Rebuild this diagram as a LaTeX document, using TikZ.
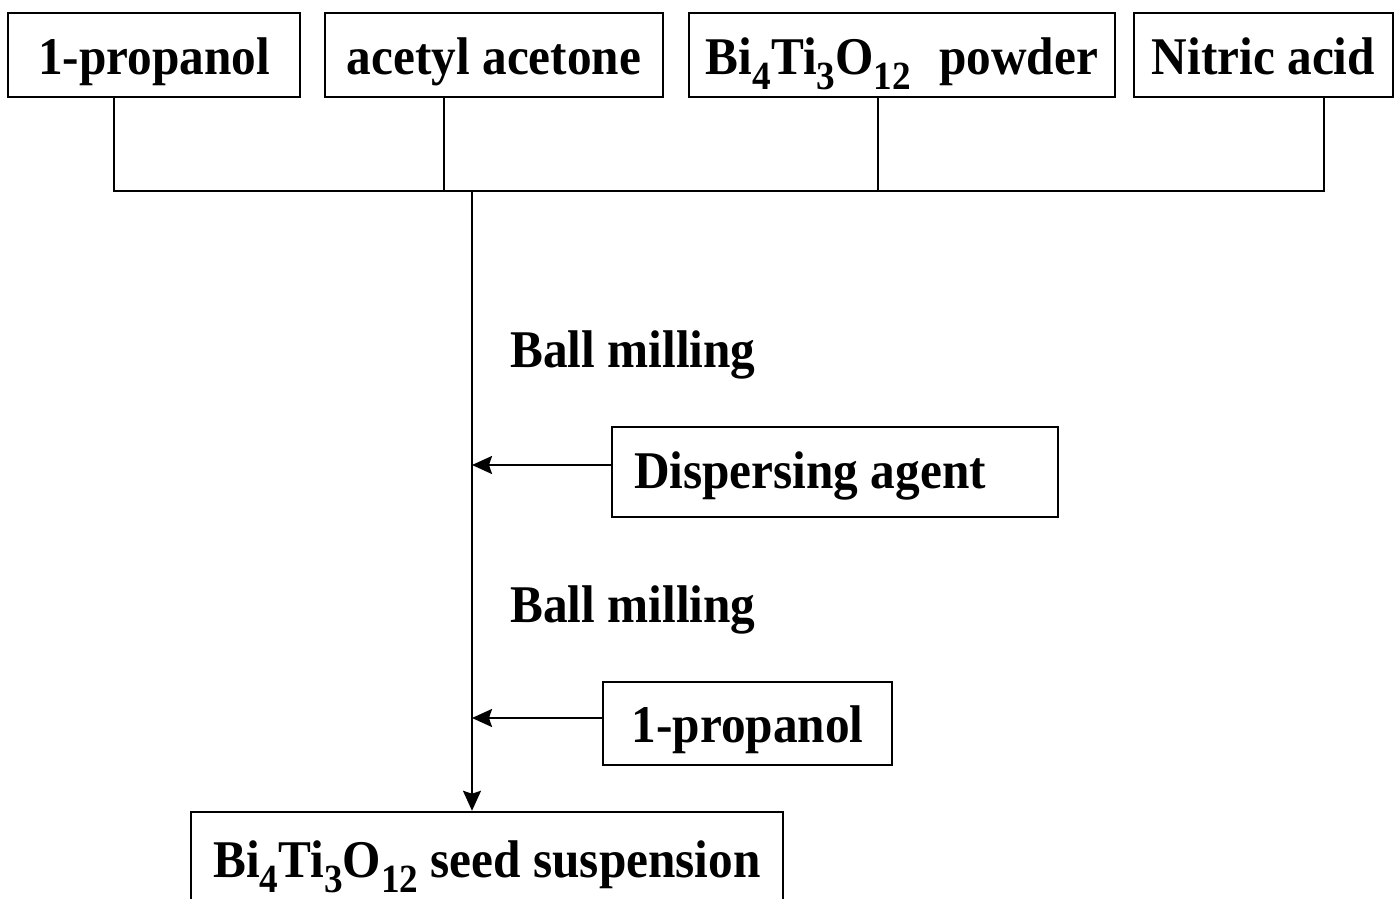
\documentclass[tikz,border=0pt]{standalone}
\usepackage{fontspec}
\setmainfont{Liberation Serif}[FakeStretch=0.93]
\usetikzlibrary{arrows.meta}
\newcommand{\chemsub}[1]{\raisebox{-7.5pt}{\fontsize{20}{20}\selectfont #1}}
\tikzstyle{basic} = [rectangle, draw=black, line width=1.25pt, minimum height=42pt, inner xsep=0pt, text height=20pt, text depth=0pt, text centered, font=\bfseries\fontsize{26.5}{30}\selectfont]
\tikzstyle{stage} = [inner sep=0pt, anchor=base west, font=\bfseries\fontsize{26.5}{30}\selectfont]

\begin{document}
\begin{tikzpicture}[x=0.5pt,y=-0.5pt]
    \tikzset{myptr/.style={line width=1pt,-{Stealth[length=10pt,width=9pt,inset=1.5pt]}}}
    \useasboundingbox (0,0) rectangle (1395,898);
    \node (prop) [basic, minimum width=146pt] at (154,55) {1-propanol};
    \node (acac) [basic, minimum width=169pt] at (494,55) {acetyl acetone};
    \node (bit) [basic, minimum width=213pt] at (902,55) {Bi\chemsub{4}Ti\chemsub{3}O\chemsub{12}\hspace{8pt} powder};
    \node (nitric) [basic, minimum width=129.5pt] at (1263.5,55) {Nitric acid};

    \coordinate (bus) at (472,191);
    \draw [line width=1pt] ([xshift=-20pt]prop.south) |- (bus);
    \draw [line width=1pt] ([xshift=-25pt]acac.south) |- (bus);
    \draw [line width=1pt] ([xshift=-12pt]bit.south) |- (bus);
    \draw [line width=1pt] ([xshift=30pt]nitric.south) |- (bus);

    \node (mill1) [stage] at (510,367) {Ball milling};
    \node (disp) [basic, minimum width=223pt, minimum height=45pt, text depth=4pt] at (835,472) {Dispersing agent\hspace*{25pt}};
    \node (mill2) [stage] at (510,622) {Ball milling};
    \node (prop2) [basic, minimum width=144.5pt, minimum height=41.5pt, text depth=1.5pt] at (747.5,723.5) {1-propanol};
    \node (seed) [basic, minimum width=296pt, minimum height=50pt, text depth=5pt] at (487,862) {Bi\chemsub{4}Ti\chemsub{3}O\chemsub{12} seed suspension};

    \coordinate (dispin) at ([yshift=3.5pt]disp.west);
    \coordinate (propin) at ([yshift=2.75pt]prop2.west);
    \draw [myptr] (bus) -- (bus |- seed.north);
    \draw [myptr] (dispin) -- (dispin -| bus);
    \draw [myptr] (propin) -- (propin -| bus);
\end{tikzpicture}
\end{document}
